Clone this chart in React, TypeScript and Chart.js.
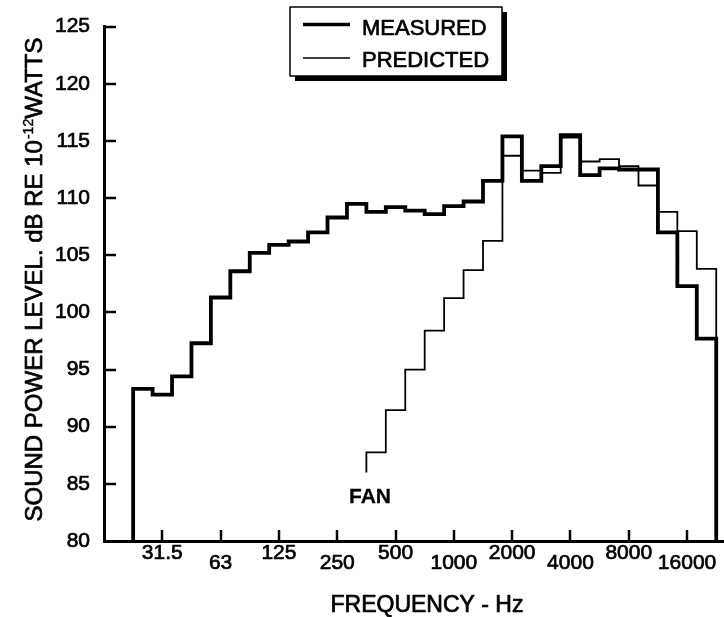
import React, { useEffect, useRef } from 'react';
import { Chart, registerables } from 'chart.js';

Chart.register(...registerables);

// One-third octave band centre frequencies (Hz)
const bands = [
  '25', '31.5', '40', '50', '63', '80', '100', '125', '160', '200',
  '250', '315', '400', '500', '630', '800', '1000', '1250', '1600', '2000',
  '2500', '3150', '4000', '5000', '6300', '8000', '10000', '12500', '16000', '20000',
];

// Sound power level, dB re 10^-12 W
const measured = [
  93.3, 92.8, 94.4, 97.3, 101.3, 103.6, 105.2, 105.9, 106.2, 107.0,
  108.3, 109.5, 108.8, 109.2, 108.9, 108.6, 109.3, 109.7, 111.5, 115.4,
  111.5, 112.8, 115.5, 112.0, 112.6, 112.5, 112.5, 107.0, 102.3, 97.7,
];

const predicted = [
  null, null, null, null, null, null, null, null, null, null,
  null, null, 87.75, 91.45, 95.0, 98.4, 101.25, 103.7, 106.25, 113.7,
  112.4, 112.2, 115.3, 113.2, 113.4, 112.8, 111.1, 108.8, 107.1, 103.8,
];

const predictedStartLevel = 86;

const octaveLabels = ['31.5', '63', '125', '250', '500', '1000', '2000', '4000', '8000', '16000'];

const yMin = 80;
const yMax = 125;
const yStep = 5;

const legendLabels = ['MEASURED', 'PREDICTED'];
const annotationText = 'FAN';
const xTitle = 'FREQUENCY - Hz';
const yTitleMain = 'SOUND POWER LEVEL. dB RE 10';
const yTitleSup = '-12';
const yTitleEnd = 'WATTS';

const FONT = "'Liberation Sans', Arial, Helvetica, sans-serif";
const INK = 0.7;

function stepPoints(values: (number | null)[], startLevel: number, endLevel: number) {
  const idx = values.map((v, i) => (v == null ? -1 : i)).filter((i) => i >= 0);
  const first = idx[0];
  const last = idx[idx.length - 1];
  const pts: { x: number; y: number }[] = [];
  pts.push({ x: first - 0.5, y: startLevel });
  for (let i = first; i <= last; i++) {
    pts.push({ x: i - 0.5, y: values[i] as number });
  }
  pts.push({ x: last + 0.5, y: values[last] as number });
  pts.push({ x: last + 0.5, y: endLevel });
  return pts;
}

function inkText(ctx: CanvasRenderingContext2D, text: string, x: number, y: number) {
  ctx.fillText(text, x, y);
  ctx.strokeText(text, x, y);
}

const decorations = {
  id: 'decorations',
  afterDraw(chart: any) {
    const { ctx, chartArea, scales } = chart;
    const xs = scales.x;
    const ys = scales.y;
    ctx.save();
    ctx.strokeStyle = '#000';
    ctx.fillStyle = '#000';
    ctx.lineCap = 'butt';
    ctx.lineJoin = 'round';

    // inner tick marks on y axis
    ctx.lineWidth = 2.5;
    for (let v = yMin + yStep; v <= yMax; v += yStep) {
      const y = Math.round(ys.getPixelForValue(v));
      ctx.beginPath();
      ctx.moveTo(chartArea.left, y);
      ctx.lineTo(chartArea.left + 12, y);
      ctx.stroke();
    }
    // inner tick marks on x axis
    octaveLabels.forEach((lab) => {
      const x = Math.round(xs.getPixelForValue(bands.indexOf(lab)));
      ctx.lineWidth = 2.5;
      ctx.beginPath();
      ctx.moveTo(x, chartArea.bottom);
      ctx.lineTo(x, chartArea.bottom - 11);
      ctx.stroke();
    });
    // staggered x labels
    ctx.font = `21px ${FONT}`;
    ctx.textAlign = 'center';
    ctx.textBaseline = 'alphabetic';
    ctx.lineWidth = INK;
    octaveLabels.forEach((lab, k) => {
      const x = xs.getPixelForValue(bands.indexOf(lab));
      inkText(ctx, lab, x, chartArea.bottom + (k % 2 === 0 ? 18 : 28));
    });

    // x title
    ctx.font = `23px ${FONT}`;
    inkText(ctx, xTitle, 427, 612);

    // y title (rotated, with superscript)
    const mainFont = `24px ${FONT}`;
    const supFont = `14px ${FONT}`;
    ctx.font = mainFont;
    const w1 = ctx.measureText(yTitleMain).width;
    const w3 = ctx.measureText(yTitleEnd).width;
    ctx.font = supFont;
    const w2 = ctx.measureText(yTitleSup).width;
    const total = w1 + w2 + w3;
    ctx.save();
    ctx.translate(42, 280 + total / 2);
    ctx.rotate(-Math.PI / 2);
    ctx.textAlign = 'left';
    ctx.font = mainFont;
    inkText(ctx, yTitleMain, 0, 0);
    ctx.font = supFont;
    ctx.lineWidth = 0.4;
    inkText(ctx, yTitleSup, w1 + 1, -9);
    ctx.lineWidth = INK;
    ctx.font = mainFont;
    inkText(ctx, yTitleEnd, w1 + w2 + 1, 0);
    ctx.restore();

    // legend box with drop shadow
    const bx = 290, by = 7, bw = 212, bh = 69;
    ctx.fillStyle = '#000';
    ctx.fillRect(bx + 5, by + 5, bw, bh);
    ctx.fillStyle = '#fff';
    ctx.fillRect(bx, by, bw, bh);
    ctx.lineWidth = 1.5;
    ctx.strokeRect(bx, by, bw, bh);
    ctx.fillStyle = '#000';
    ctx.lineWidth = 3.5;
    ctx.beginPath();
    ctx.moveTo(303, 24.5);
    ctx.lineTo(350, 24.5);
    ctx.stroke();
    ctx.lineWidth = 1.5;
    ctx.beginPath();
    ctx.moveTo(303, 58);
    ctx.lineTo(350, 58);
    ctx.stroke();
    ctx.font = `22px ${FONT}`;
    ctx.textAlign = 'left';
    ctx.lineWidth = INK;
    inkText(ctx, legendLabels[0], 362, 35);
    inkText(ctx, legendLabels[1], 362, 67);

    // FAN annotation
    ctx.font = `bold 21px ${FONT}`;
    ctx.textAlign = 'center';
    ctx.lineWidth = 0.3;
    inkText(ctx, annotationText, 370, 503);

    ctx.restore();
  },
};

export default function App() {
  const ref = useRef<HTMLCanvasElement>(null);

  useEffect(() => {
    const canvas = ref.current;
    if (!canvas) return;
    const chart = new Chart(canvas, {
      type: 'line',
      data: {
        datasets: [
          {
            label: legendLabels[1],
            data: stepPoints(predicted, predictedStartLevel, yMin),
            borderColor: '#000',
            borderWidth: 1.8,
            stepped: 'before',
            pointRadius: 0,
            fill: false,
            borderJoinStyle: 'miter',
            clip: false,
          },
          {
            label: legendLabels[0],
            data: stepPoints(measured, yMin, yMin),
            borderColor: '#000',
            borderWidth: 3.8,
            stepped: 'before',
            pointRadius: 0,
            fill: false,
            borderJoinStyle: 'miter',
            clip: false,
          },
        ],
      },
      options: {
        animation: false,
        responsive: false,
        devicePixelRatio: 1,
        layout: { padding: { left: 0, right: 0, top: 23, bottom: 0 } },
        plugins: { legend: { display: false }, tooltip: { enabled: false } },
        scales: {
          x: {
            type: 'linear',
            min: -2,
            max: 29.9,
            ticks: { display: false },
            grid: { drawOnChartArea: false, drawTicks: false },
            border: { display: true, color: '#000', width: 3 },
            afterFit: (s: any) => { s.height = 76; },
          },
          y: {
            min: yMin,
            max: yMax,
            ticks: {
              stepSize: yStep,
              color: '#000',
              padding: 14,
              font: { family: FONT, size: 21 },
              textStrokeColor: '#000',
              textStrokeWidth: INK,
            },
            grid: { drawOnChartArea: false, drawTicks: false },
            border: { display: true, color: '#000', width: 3 },
            afterFit: (s: any) => { s.width = 104; },
          },
        },
      },
      plugins: [decorations],
    } as any);
    return () => chart.destroy();
  }, []);

  return (
    <div style={{ position: 'fixed', left: 0, top: 0, width: 724, height: 617, background: '#fff' }}>
      <canvas ref={ref} width={724} height={617} style={{ display: 'block', width: 724, height: 617 }} />
    </div>
  );
}
